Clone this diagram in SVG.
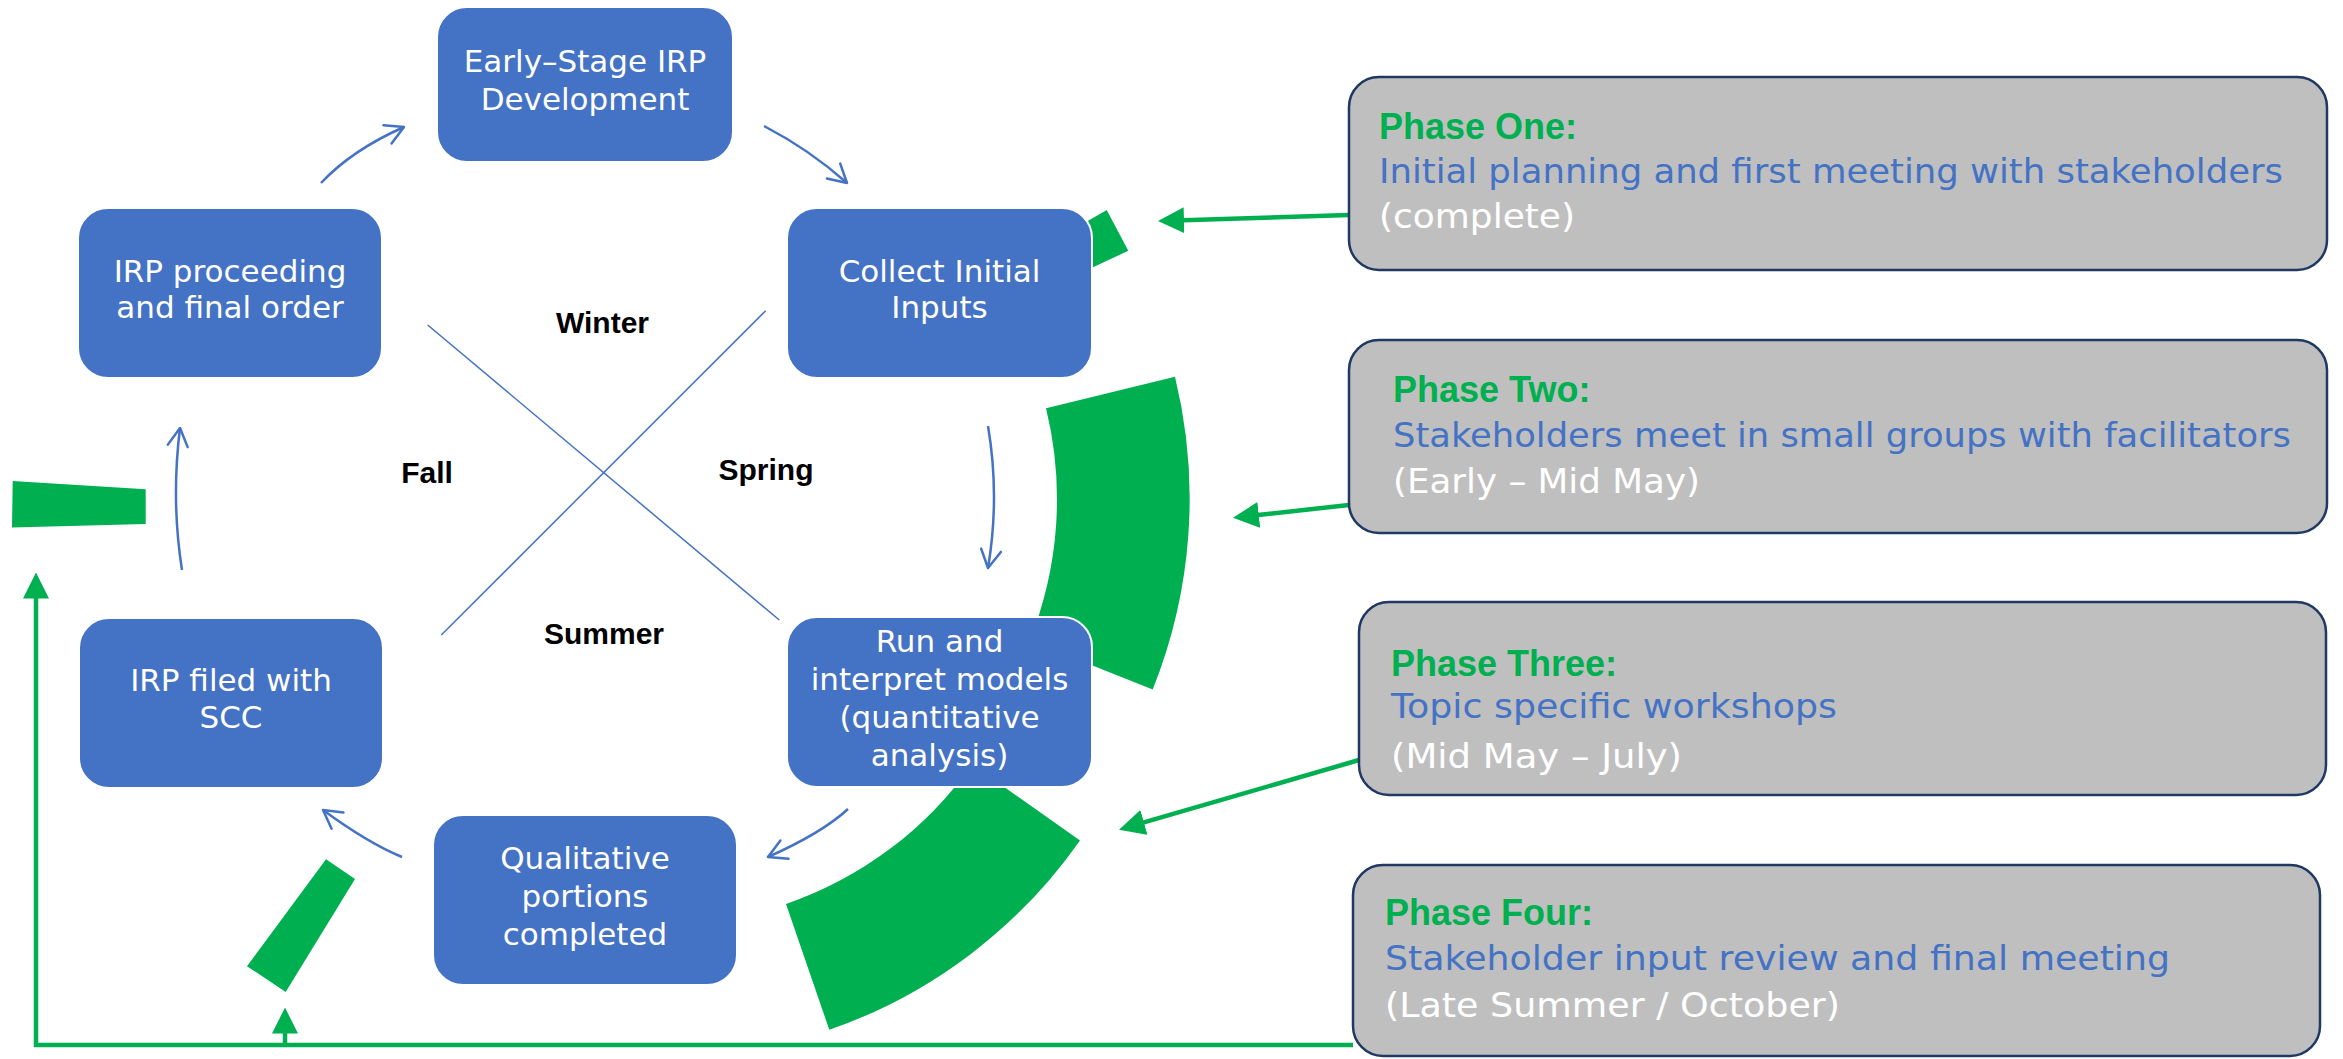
<svg xmlns="http://www.w3.org/2000/svg" width="2343" height="1059" viewBox="0 0 2343 1059">
<defs>
<style>
.node rect{fill:#4472c4;stroke:#ffffff;stroke-width:2}
.node text{font-family:"DejaVu Sans",sans-serif;font-size:31px;fill:#ffffff;text-anchor:middle}
.ring{fill:#00b050}
.season{font-family:"Liberation Sans",Arial,sans-serif;font-weight:bold;font-size:30px;fill:#000000;text-anchor:middle}
.flow{fill:none;stroke:#4472c4;stroke-width:2.5;marker-end:url(#chev)}
.diag{stroke:#4472c4;stroke-width:1.5}
.gline{fill:none;stroke:#00b050;stroke-width:4.5}
.garrow{marker-end:url(#gh)}
.phase rect{fill:#bfbfbf;stroke:#1f3864;stroke-width:2.5}
.ptitle{font-family:"Liberation Sans",Arial,sans-serif;font-weight:bold;font-size:36px;fill:#00b050}
.pdesc{font-family:"DejaVu Sans",sans-serif;font-size:33px;fill:#4472c4}
.pdate{font-family:"DejaVu Sans",sans-serif;font-size:33px;fill:#ffffff}
</style>
<marker id="chev" markerUnits="userSpaceOnUse" viewBox="-22 -12 24 24" markerWidth="24" markerHeight="24" refX="0" refY="0" orient="auto">
<path d="M-18,-10 L0,0 L-18,10" fill="none" stroke="#4472c4" stroke-width="2.5" stroke-linecap="round" stroke-linejoin="round"/>
</marker>
<marker id="gh" markerUnits="userSpaceOnUse" viewBox="0 0 26 26" markerWidth="26" markerHeight="26" refX="1" refY="13" orient="auto">
<path d="M0,0 L26,13 L0,26 z" fill="#00b050"/>
</marker>
</defs>
<rect x="0" y="0" width="2343" height="1059" fill="#ffffff"/>

<g id="ring">
<path class="ring" d="M1175,376.7 A512.5,512.5 0 0 1 1152.7,689.5 L1029.7,640.4 A380,380 0 0 0 1046,408.3 Z"/>
<path class="ring" d="M1080,840.4 A510,510 0 0 1 829.3,1029.8 L786,904 A378,378 0 0 0 972,764.4 Z"/>
<polygon class="ring" points="1054.8,240.1 1106.7,210 1128.3,250.7 1055.9,284.8"/>
<polygon class="ring" points="12.7,481 145.7,489.3 145.7,524.1 12,527.6"/>
<polygon class="ring" points="326,859.3 355,879 285.7,991.9 247,966.2"/>
</g>

<g id="seasons">
<line class="diag" x1="427.7" y1="325" x2="779.3" y2="620"/>
<line class="diag" x1="765.7" y1="310.7" x2="441.3" y2="635"/>
<text class="season" x="602.5" y="333">Winter</text>
<text class="season" x="427" y="483">Fall</text>
<text class="season" x="766" y="480">Spring</text>
<text class="season" x="604" y="644">Summer</text>
</g>

<g id="connectors">
<path class="flow" d="M321,183 Q352,150 404,127"/>
<path class="flow" d="M764,126 Q810,150 847,183"/>
<path class="flow" d="M988,426 Q1000,497 988,568"/>
<path class="flow" d="M848,809 Q822,833 768,857"/>
<path class="flow" d="M402,857 Q368,843 323,810"/>
<path class="flow" d="M182,570 Q171,500 180,428"/>
<path class="gline garrow" d="M1349,215 L1183,220.2"/>
<path class="gline garrow" d="M1349,505 L1257.8,515.1"/>
<path class="gline garrow" d="M1359,760 L1143,822.7"/>
<path class="gline garrow" d="M1353,1045 L36,1045 L36,597.5"/>
<path class="gline garrow" d="M285,1045 L285,1032.5"/>
</g>

<g id="node-early" class="node">
<rect x="437" y="7" width="296" height="155" rx="30"/>
<text x="585" y="72">Early–Stage IRP</text>
<text x="585" y="110">Development</text>
</g>
<g id="node-collect" class="node">
<rect x="787" y="208" width="305" height="170" rx="30"/>
<text x="939.5" y="282">Collect Initial</text>
<text x="939.5" y="318">Inputs</text>
</g>
<g id="node-run" class="node">
<rect x="787" y="617" width="305" height="170" rx="30"/>
<text x="939.5" y="652">Run and</text>
<text x="939.5" y="690">interpret models</text>
<text x="939.5" y="728">(quantitative</text>
<text x="939.5" y="766">analysis)</text>
</g>
<g id="node-qual" class="node">
<rect x="433" y="815" width="304" height="170" rx="30"/>
<text x="585" y="869">Qualitative</text>
<text x="585" y="907">portions</text>
<text x="585" y="945">completed</text>
</g>
<g id="node-scc" class="node">
<rect x="79" y="618" width="304" height="170" rx="30"/>
<text x="231" y="691">IRP filed with</text>
<text x="231" y="728">SCC</text>
</g>
<g id="node-proceeding" class="node">
<rect x="78" y="208" width="304" height="170" rx="30"/>
<text x="230" y="282">IRP proceeding</text>
<text x="230" y="318">and final order</text>
</g>

<g id="phase-one" class="phase">
<rect x="1349" y="77" width="978" height="193" rx="30"/>
<text class="ptitle" x="1379" y="139">Phase One:</text>
<text class="pdesc" x="1379" y="183" textLength="904" lengthAdjust="spacingAndGlyphs">Initial planning and first meeting with stakeholders</text>
<text class="pdate" x="1379" y="228" textLength="196" lengthAdjust="spacingAndGlyphs">(complete)</text>
</g>
<g id="phase-two" class="phase">
<rect x="1349" y="340" width="978" height="193" rx="30"/>
<text class="ptitle" x="1393" y="402">Phase Two:</text>
<text class="pdesc" x="1393" y="447" textLength="898" lengthAdjust="spacingAndGlyphs">Stakeholders meet in small groups with facilitators</text>
<text class="pdate" x="1393" y="493" textLength="307" lengthAdjust="spacingAndGlyphs">(Early – Mid May)</text>
</g>
<g id="phase-three" class="phase">
<rect x="1359" y="602" width="967" height="193" rx="30"/>
<text class="ptitle" x="1391" y="676">Phase Three:</text>
<text class="pdesc" x="1391" y="718" textLength="446" lengthAdjust="spacingAndGlyphs">Topic specific workshops</text>
<text class="pdate" x="1391" y="768" textLength="291" lengthAdjust="spacingAndGlyphs">(Mid May – July)</text>
</g>
<g id="phase-four" class="phase">
<rect x="1353" y="865" width="967" height="191" rx="30"/>
<text class="ptitle" x="1385" y="925">Phase Four:</text>
<text class="pdesc" x="1385" y="970" textLength="785" lengthAdjust="spacingAndGlyphs">Stakeholder input review and final meeting</text>
<text class="pdate" x="1385" y="1017" textLength="455" lengthAdjust="spacingAndGlyphs">(Late Summer / October)</text>
</g>
</svg>
